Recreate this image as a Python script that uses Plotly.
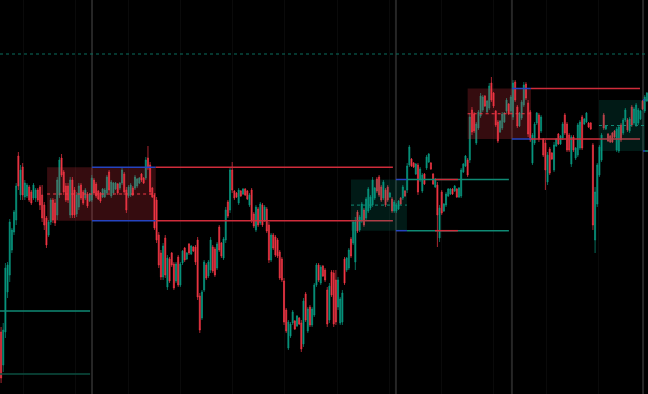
import plotly.graph_objects as go

# ---- candle data (price units; higher = higher on chart) ----
opens = [
 68,35,68,108,125,150,168,180,244,205, 233,203,204,213,208,202,202,210,213,205,
 195,182,165,178,200,197,185,205,242,228, 214,214,185,220,210,186,193,215,208,202,
 206,199,200,220,216,209,207,203,203,207, 228,204,207,211,216,212,217,226,210,204,
 205,212,212,214,217,226,222,222,242,235, 212,205,200,165,147,123,162,113,141,147,
 136,119,143,115,137,152,141,156,146,153, 153,160,104,82,110,135,124,130,153,151,
 132,173,157,142,160,198,190,230,209,207, 197,209,206,211,209,195,210,186,170,191,
 177,195,180,191,175,140,165,163,160,148, 141,119,90,52,64,77,79,74,82,77,
 56,106,69,93,75,85,115,135,117,134, 130,110,80,128,127,120,93,77,78,141,
 130,132,161,157,138,188,170,179,190,182, 189,192,195,202,221,223,213,202,210,213,
 203,201,189,189,191,202,202,209,210,235, 241,237,226,235,220,209,226,232,238,237,
 226,213,215,162,208,189,195,204,206,211, 209,211,203,204,228,234,240,240,290,286,
 257,272,284,290,304,288,292,317,307,289, 278,268,272,278,289,296,289,283,318,293,
 274,282,295,316,297,288,237,257,277,285, 269,261,257,218,251,247,230,254,266,256,
 262,285,276,265,236,263,242,245,252,283, 276,278,277,277,255,160,196,225,240,285,
 271,266,264,267,269,250,249,275,267,280, 280,269,293,277,275,277,281,299,289,299]
closes = [
 22,70,132,135,178,170,188,214,214,230, 205,217,215,200,197,215,210,200,195,182,
 175,155,178,200,180,177,220,240,225,208, 200,200,220,185,185,205,214,202,197,210,
 194,206,222,207,204,201,199,211,210,223, 210,218,217,217,207,217,230,208,190,213,
 215,205,223,221,222,220,217,240,232,208, 203,172,160,135,123,154,125,142,119,135,
 112,136,115,136,149,140,147,147,154,149, 138,103,70,108,138,122,138,160,129,125,
 156,150,144,161,190,184,230,210,202,203, 210,204,211,205,201,205,180,174,193,175,
 196,175,193,169,140,165,152,145,144,122, 120,78,69,78,76,88,71,84,76,51,
 99,80,91,75,91,115,135,120,133,124, 120,76,114,105,76,78,120,101,107,117,
 142,150,144,178,178,169,183,196,175,201, 211,203,220,212,209,205,200,218,195,200,
 207,189,198,195,199,196,213,204,234,253, 234,233,236,208,231,225,216,243,246,231,
 216,221,185,192,187,196,206,211,211,206, 214,203,212,230,236,244,225,283,268,269,
 276,288,304,303,294,299,314,300,294,275, 259,279,286,287,300,286,303,317,300,274,
 287,298,315,302,266,260,265,276,287,261, 283,245,230,245,227,241,255,261,256,264,
 276,267,250,250,263,250,252,275,278,252, 281,287,273,271,175,208,235,253,265,272,
 274,259,258,258,263,271,273,260,280,290, 270,281,275,291,295,290,289,291,303,307]
highs = [
 73,77,137,138,181,172,190,217,248,235, 237,220,217,215,210,217,212,212,215,215,
 198,184,180,202,202,201,223,243,246,230, 217,217,223,223,213,208,217,217,210,212,
 208,207,225,222,218,210,208,212,212,225, 230,220,218,218,217,218,232,228,213,215,
 217,214,225,222,223,227,223,243,254,238, 213,207,203,168,150,157,165,145,143,148,
 138,138,145,138,150,153,148,157,155,154, 155,163,107,110,140,137,140,163,155,153,
 158,175,158,163,193,200,233,238,210,208, 212,210,212,212,210,207,212,188,195,193,
 198,197,195,193,178,167,167,165,162,150, 143,122,92,80,78,90,80,85,83,80,
 102,108,93,95,93,117,137,137,135,135, 132,113,117,130,130,130,123,103,110,143,
 143,152,163,180,183,190,185,198,192,203, 213,205,223,213,223,225,215,220,212,215,
 208,203,200,197,200,203,215,210,237,255, 242,238,237,237,233,227,227,245,247,238,
 227,222,218,195,210,197,208,212,212,212, 215,212,213,232,237,245,242,287,293,288,
 278,290,307,305,305,300,317,323,308,290, 280,280,288,288,302,297,305,320,320,295,
 288,300,318,318,300,290,267,278,288,287, 285,262,260,248,253,248,258,262,267,265,
 278,287,278,267,265,265,253,277,280,285, 282,288,278,278,257,213,237,255,267,287,
 275,267,265,268,270,273,275,277,282,292, 282,283,295,293,297,292,290,300,305,308]
lows = [
 17,28,62,102,118,147,165,175,210,200, 200,200,202,198,195,200,198,198,190,178,
 170,152,163,175,177,174,180,202,223,205, 198,197,182,182,182,183,190,200,195,200,
 192,198,198,205,202,200,197,202,202,205, 207,202,205,210,205,210,215,205,187,202,
 203,204,210,212,216,218,216,220,230,205, 202,170,157,132,120,120,122,110,117,133,
 110,117,113,113,135,138,140,145,145,148, 135,100,67,80,108,120,122,127,127,123,
 130,148,142,140,157,182,187,207,200,202, 195,203,205,204,200,193,177,172,168,173,
 175,173,178,167,137,138,150,143,142,120, 118,75,67,50,62,75,70,73,75,48,
 53,78,67,73,73,83,113,118,115,123, 118,73,77,103,73,75,90,75,75,115,
 128,130,142,155,130,167,168,177,173,180, 187,190,193,200,207,203,198,200,193,198,
 202,187,187,187,190,195,200,203,207,233, 233,232,225,205,218,207,215,230,237,230,
 215,212,153,158,185,188,193,203,205,205, 208,202,202,202,227,233,223,237,265,267,
 255,270,282,288,293,287,290,298,292,273, 257,267,270,277,287,285,287,280,298,272,
 273,280,293,300,263,258,235,255,275,258, 267,243,210,215,225,240,228,253,255,255,
 260,265,248,248,233,248,240,243,250,250, 275,277,272,270,170,147,193,223,238,270,
 270,258,257,257,262,248,247,258,265,278, 268,267,273,275,273,275,280,290,287,298]
candle_idx = list(range(len(closes)))

# ---- session breaks (candle-index positions) ----
session_breaks = [42.1, 182.8, 236.5, 297.2]

# ---- supply / demand zones ----
zone_x0 = [21.3, 162.0, 216.0, 276.8]
zone_x1 = [71.6, 187.9, 245.3, 298.1]
zone_top = [232.7, 220.5, 311.5, 300.0]
zone_bot = [179.3, 169.3, 261.0, 249.0]
zone_kind = ["bear", "bull", "bear", "bull"]
level_start = [42.1, 182.8, 236.5, 297.2]
level_end = [181.4, 235.1, 295.8, 299.5]
flip_x0 = [None, 200.9, None, None]
flip_x1 = [None, 211.5, None, None]

# previous-session levels on the left and a far reference level
old_levels = [89, 26]
old_level_colors = ["#0f8a74", "#0b4f41"]
old_level_end = 41.2
ref_level = 346

UP = "#089981"
DOWN = "#f23645"
BLUE = "#2544c0"
LINE_RED = "#cf2c3b"
LINE_TEAL = "#0f8a74"

fig = go.Figure()
fig.add_trace(go.Candlestick(
    x=candle_idx, open=opens, high=highs, low=lows, close=closes,
    increasing=dict(line=dict(color=UP, width=0.7), fillcolor=UP),
    decreasing=dict(line=dict(color=DOWN, width=0.7), fillcolor=DOWN),
    whiskerwidth=0, showlegend=False, hoverinfo="skip"))

shapes = []
for sx in session_breaks:
    shapes.append(dict(type="line", xref="x", yref="paper", x0=sx, x1=sx, y0=0, y1=1,
                       line=dict(color="#262626", width=2), layer="below"))

shapes.append(dict(type="line", xref="paper", yref="y", x0=0, x1=1, y0=ref_level, y1=ref_level,
                   line=dict(color="#0b6e5e", width=1, dash="dot")))

for lv, col in zip(old_levels, old_level_colors):
    shapes.append(dict(type="line", xref="x", yref="y", x0=-0.5, x1=old_level_end, y0=lv, y1=lv,
                       line=dict(color=col, width=1.5)))

for i in range(len(zone_x0)):
    bear = zone_kind[i] == "bear"
    fill = "rgba(242,54,69,0.22)" if bear else "rgba(8,153,129,0.17)"
    mid_col = DOWN if bear else "#0f8a74"
    after_col = LINE_RED if bear else LINE_TEAL
    shapes.append(dict(type="rect", xref="x", yref="y", x0=zone_x0[i], x1=zone_x1[i],
                       y0=zone_bot[i], y1=zone_top[i], fillcolor=fill, line=dict(width=0)))
    mid = (zone_top[i] + zone_bot[i]) / 2
    shapes.append(dict(type="line", xref="x", yref="y", x0=zone_x0[i], x1=zone_x1[i],
                       y0=mid, y1=mid, line=dict(color=mid_col, width=1, dash="dot")))
    for lv in (zone_top[i], zone_bot[i]):
        blue_end = min(zone_x1[i], level_end[i])
        shapes.append(dict(type="line", xref="x", yref="y", x0=level_start[i], x1=blue_end,
                           y0=lv, y1=lv, line=dict(color=BLUE, width=1.5)))
        if level_end[i] > blue_end:
            shapes.append(dict(type="line", xref="x", yref="y", x0=blue_end, x1=level_end[i],
                               y0=lv, y1=lv, line=dict(color=after_col, width=1.5)))
        if flip_x0[i] is not None:
            shapes.append(dict(type="line", xref="x", yref="y", x0=flip_x0[i], x1=flip_x1[i],
                               y0=lv, y1=lv, line=dict(color=LINE_RED, width=1.5)))

fig.update_layout(
    width=648, height=394, margin=dict(l=0, r=0, t=0, b=0),
    paper_bgcolor="#000000", plot_bgcolor="#000000",
    shapes=shapes, showlegend=False,
    xaxis=dict(range=[-0.5, 299.5], rangeslider=dict(visible=False), showgrid=True,
               gridcolor="#0a0a0a", gridwidth=1, tick0=10.4, dtick=24.2,
               showticklabels=False, zeroline=False, showline=False, ticks=""),
    yaxis=dict(range=[6, 400], showgrid=False, zeroline=False, showticklabels=False,
               showline=False, ticks=""),
)
fig.write_html("out.html")
